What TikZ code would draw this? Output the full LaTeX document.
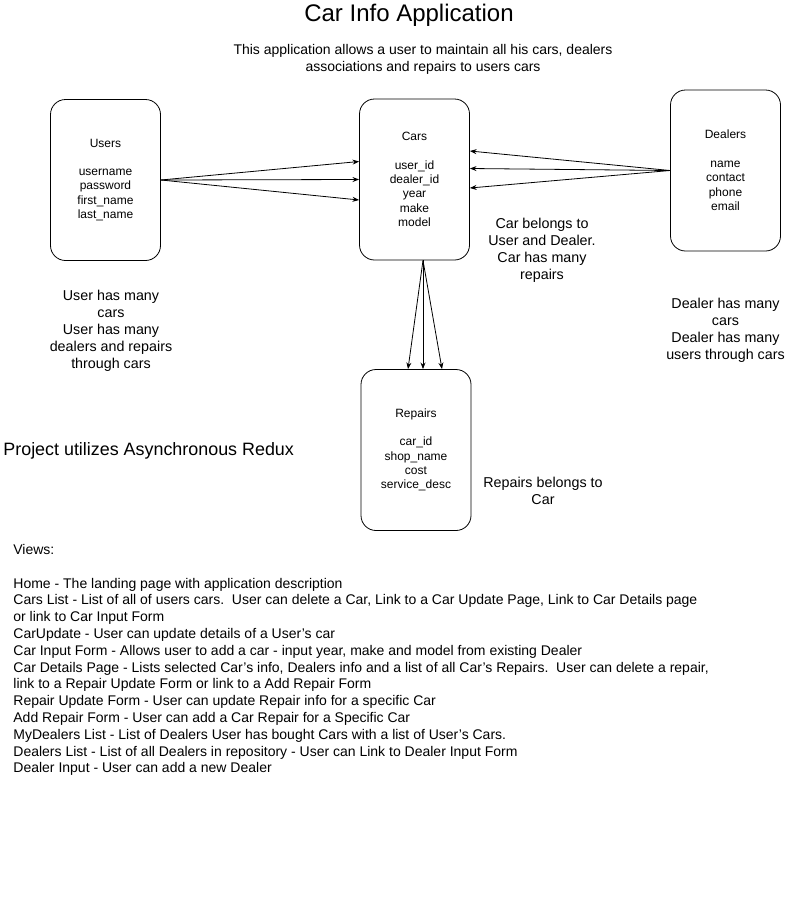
\documentclass[tikz,border=0pt]{standalone}
\usepackage{fontspec}
\setmainfont{Liberation Sans}
\usetikzlibrary{arrows.meta,positioning}

\begin{document}
\begin{tikzpicture}[x=1pt, y=1pt, >=Stealth, line width=0.8pt, node distance=20pt,
    entity/.style={rectangle, rounded corners=15pt, draw=black, minimum width=110pt, minimum height=161pt, align=center, font=\fontsize{12}{14.4}\selectfont},
    note/.style={align=center, inner sep=0pt, font=\fontsize{14.3}{17}\selectfont}]
    \useasboundingbox (0,0) rectangle (789,-911);

    % title
    \node (title) [font=\fontsize{24}{28}\selectfont] at (409,-15) {Car Info Application};
    \node (intro) [note, font=\fontsize{14}{17}\selectfont] at (423,-59.5) {This application allows a user to maintain all his cars, dealers\\associations and repairs to users cars};

    % entities
    \node (users) [entity] at (105.5,-180) {Users\\[14pt]username\\password\\first\_name\\last\_name};
    \node (cars) [entity] at (414.5,-179.5) {Cars\\[14pt]user\_id\\dealer\_id\\year\\make\\model};
    \node (dealers) [entity] at (725.5,-170.5) {Dealers\\[14pt]name\\contact\\phone\\email};
    \node (repairs) [entity] at (416,-450) {Repairs\\[14pt]car\_id\\shop\_name\\cost\\service\_desc};

    % notes
    \node (usernote) [note] at (111,-331) {User has many\\cars\\User has many\\dealers and repairs\\through cars};
    \node (carnote) [note] at (542,-250.5) {Car belongs to\\User and Dealer.\\Car has many\\repairs};
    \node (dealernote) [note] at (725.5,-330) {Dealer has many\\cars\\Dealer has many\\users through cars};
    \node (repairnote) [note] at (543,-490.5) {Repairs belongs to\\Car};
    \node (redux) [note, anchor=west, font=\fontsize{17.9}{21}\selectfont] at (3,-451) {Project utilizes Asynchronous Redux};

    % views
    \node (views) [note, align=left, anchor=north west, font=\fontsize{14}{16.8}\selectfont] at (13,-544) {Views:\\[16.8pt]
        Home - The landing page with application description\\
        Cars List - List of all of users cars.\ \ User can delete a Car, Link to a Car Update Page, Link to Car Details page\\
        or link to Car Input Form\\
        CarUpdate - User can update details of a User's car\\
        Car Input Form - Allows user to add a car - input year, make and model from existing Dealer\\
        Car Details Page - Lists selected Car's info, Dealers info and a list of all Car's Repairs.\ \ User can delete a repair,\\
        link to a Repair Update Form or link to a Add Repair Form\\
        Repair Update Form - User can update Repair info for a specific Car\\
        Add Repair Form - User can add a Car Repair for a Specific Car\\
        MyDealers List - List of Dealers User has bought Cars with a list of User's Cars.\\
        Dealers List - List of all Dealers in repository - User can Link to Dealer Input Form\\
        Dealer Input - User can add a new Dealer};

    % connectors
    \draw[->] (users.east) -- ([yshift=18pt]cars.west);
    \draw[->] (users.east) -- (cars.west);
    \draw[->] (users.east) -- ([yshift=-20.5pt]cars.west);
    \draw[->] (dealers.west) -- ([yshift=28.5pt]cars.east);
    \draw[->] (dealers.west) -- ([yshift=11pt]cars.east);
    \draw[->] (dealers.west) -- ([yshift=-8.5pt]cars.east);
    \draw[->] ([xshift=8.5pt]cars.south) -- ([xshift=-8pt]repairs.north);
    \draw[->] ([xshift=8.5pt]cars.south) -- ([xshift=7pt]repairs.north);
    \draw[->] ([xshift=8.5pt]cars.south) -- ([xshift=26pt]repairs.north);
\end{tikzpicture}
\end{document}
